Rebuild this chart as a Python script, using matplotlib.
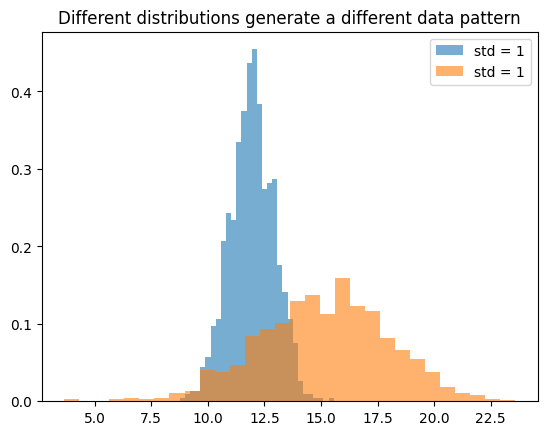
import numpy as np
import matplotlib
matplotlib.use("Agg")
import matplotlib.pyplot as plt

# density heights, 30 bins each
blue_range = (8.766, 15.565)
blue_heights = [0.0044, 0.0088, 0.0132, 0.0132, 0.0441, 0.0574, 0.0971, 0.1059,
                0.2074, 0.2427, 0.2339, 0.3354, 0.3751, 0.4369, 0.4545, 0.3839,
                0.2736, 0.2824, 0.2868, 0.1765, 0.1412, 0.1059, 0.0750, 0.0265,
                0.0088, 0.0088, 0.0044, 0.0044, 0.0, 0.0044]

orange_range = (3.66, 23.58)
orange_heights = [0.0030, 0.0, 0.0, 0.0030, 0.0045, 0.0030, 0.0045, 0.0105,
                  0.0136, 0.0407, 0.0377, 0.0467, 0.0843, 0.0934, 0.1009, 0.1295,
                  0.1370, 0.1130, 0.1596, 0.1235, 0.1160, 0.0813, 0.0663, 0.0542,
                  0.0377, 0.0181, 0.0105, 0.0075, 0.0030, 0.0015]

labels = ["std = 1", "std = 1"]

fig, ax = plt.subplots(figsize=(6.4, 4.8), dpi=100)

blue_edges = np.linspace(blue_range[0], blue_range[1], len(blue_heights) + 1)
orange_edges = np.linspace(orange_range[0], orange_range[1], len(orange_heights) + 1)

ax.hist(blue_edges[:-1], bins=blue_edges, weights=blue_heights, alpha=0.6, label=labels[0])
ax.hist(orange_edges[:-1], bins=orange_edges, weights=orange_heights, alpha=0.6, label=labels[1])

ax.set_title("Different distributions generate a different data pattern")
ax.legend()

plt.savefig("out.png", dpi=100, bbox_inches="tight")
